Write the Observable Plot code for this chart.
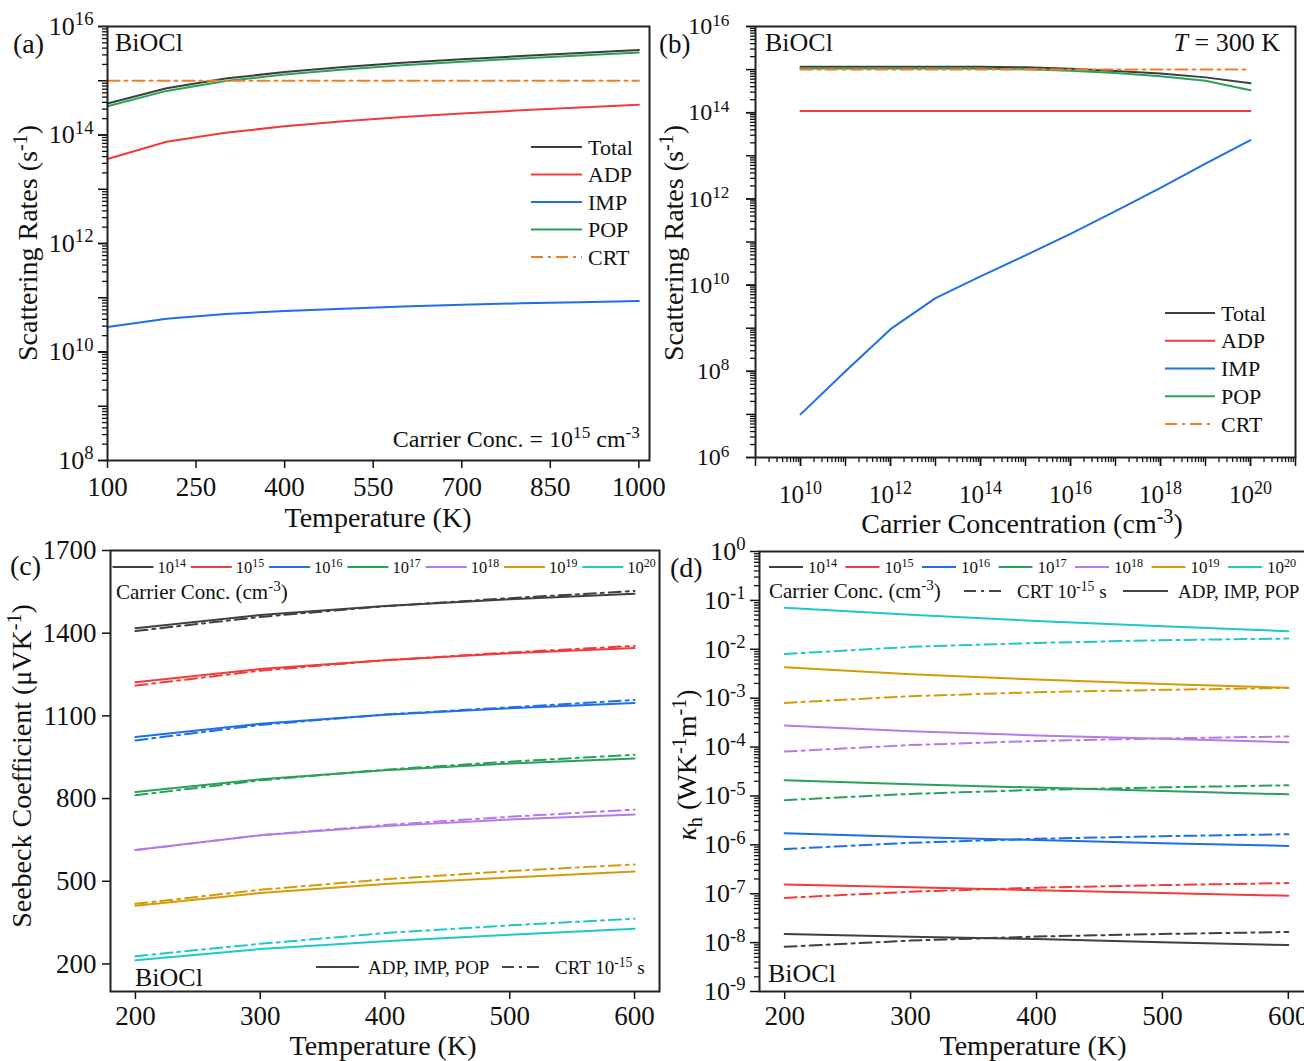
<!DOCTYPE html>
<html><head><meta charset="utf-8">
<script src="https://cdn.jsdelivr.net/npm/d3@7"></script>
<script src="https://cdn.jsdelivr.net/npm/@observablehq/plot@0.6"></script>
<style>
html,body{margin:0;padding:0;background:#fff;}
#fig{position:relative;width:1304px;height:1061px;overflow:hidden;background:#fff;font-family:"Liberation Serif","Times New Roman",serif;}
#fig svg{position:absolute;overflow:visible;}
</style>
</head><body><div id="fig"></div>
<script>
// ---------------- DATA ----------------
// Panel (a): scattering rates vs temperature, carrier conc 1e15
const tempA = [100, 200, 300, 400, 500, 600, 700, 800, 900, 1000];
const aTotal = [3.8e14, 7.3e14, 1.1e15, 1.45e15, 1.8e15, 2.15e15, 2.5e15, 2.85e15, 3.25e15, 3.7e15];
const aADP = [3.6e13, 7.5e13, 1.1e14, 1.45e14, 1.8e14, 2.15e14, 2.5e14, 2.85e14, 3.2e14, 3.6e14];
const aIMP = [2.9e10, 4.1e10, 5.0e10, 5.7e10, 6.3e10, 6.9e10, 7.4e10, 7.9e10, 8.3e10, 8.7e10];
const aPOP = [3.4e14, 6.5e14, 9.9e14, 1.3e15, 1.62e15, 1.94e15, 2.25e15, 2.57e15, 2.92e15, 3.33e15];
const aCRT = [1e15, 1e15, 1e15, 1e15, 1e15, 1e15, 1e15, 1e15, 1e15, 1e15];
const tempTicksA = [100, 250, 400, 550, 700, 850, 1000];

// Panel (b): scattering rates vs carrier concentration at 300 K
const concB = [1e10, 1e11, 1e12, 1e13, 1e14, 1e15, 1e16, 1e17, 1e18, 1e19, 1e20];
const bTotal = [1.17e15, 1.17e15, 1.17e15, 1.17e15, 1.16e15, 1.13e15, 1.04e15, 9.3e14, 8.1e14, 6.6e14, 4.8e14];
const bADP = [1.1e14, 1.1e14, 1.1e14, 1.1e14, 1.1e14, 1.1e14, 1.1e14, 1.1e14, 1.1e14, 1.1e14, 1.1e14];
const bIMP = [1e7, 1e8, 9.5e8, 5e9, 1.6e10, 4.9e10, 1.55e11, 5.2e11, 1.8e12, 6.6e12, 2.3e13];
const bPOP = [1.06e15, 1.06e15, 1.06e15, 1.06e15, 1.05e15, 1.02e15, 9.4e14, 8.3e14, 7.0e14, 5.5e14, 3.3e14];
const bCRT = [1e15, 1e15, 1e15, 1e15, 1e15, 1e15, 1e15, 1e15, 1e15, 1e15, 1e15];

const mechNames = ["Total", "ADP", "IMP", "POP", "CRT"];
const mechColors = ["#3d3d3d", "#f23a3a", "#1f6fe8", "#2aa05a", "#f57e1e"];

// Panels (c),(d): vs temperature for several carrier concentrations
const tempCD = [200, 300, 400, 500, 600];
const concNames = ["10^{14}", "10^{15}", "10^{16}", "10^{17}", "10^{18}", "10^{19}", "10^{20}"];
const concColors = ["#404040", "#f23a3a", "#1f6fe8", "#2aa05a", "#b47be6", "#d49b06", "#1ec8cc"];

// Seebeck (uV/K): ADP, IMP, POP (solid)
const seeb14 = [1418, 1466, 1499, 1523, 1543];
const seeb15 = [1222, 1270, 1302, 1327, 1346];
const seeb16 = [1023, 1071, 1104, 1128, 1147];
const seeb17 = [824, 870, 903, 927, 945];
const seeb18 = [613, 667, 700, 724, 742];
const seeb19 = [411, 457, 490, 514, 535];
const seeb20 = [213, 254, 282, 306, 328];
// Seebeck CRT 1e-15 s (dash-dot)
const seebCrt14 = [1408, 1459, 1498, 1527, 1553];
const seebCrt15 = [1210, 1264, 1302, 1330, 1354];
const seebCrt16 = [1011, 1067, 1105, 1131, 1158];
const seebCrt17 = [812, 866, 905, 934, 959];
const seebCrt18 = [613, 667, 704, 734, 760];
const seebCrt19 = [418, 469, 507, 537, 561];
const seebCrt20 = [228, 273, 312, 340, 364];

// kappa_h (W/K/m): ADP, IMP, POP (solid)
const kap14 = [1.5e-8, 1.32e-8, 1.18e-8, 1.02e-8, 8.9e-9];
const kap15 = [1.55e-7, 1.35e-7, 1.18e-7, 1.03e-7, 9.1e-8];
const kap16 = [1.73e-6, 1.45e-6, 1.25e-6, 1.08e-6, 9.5e-7];
const kap17 = [2.1e-5, 1.73e-5, 1.48e-5, 1.26e-5, 1.08e-5];
const kap18 = [2.77e-4, 2.1e-4, 1.73e-4, 1.48e-4, 1.26e-4];
const kap19 = [4.3e-3, 3.1e-3, 2.4e-3, 1.96e-3, 1.63e-3];
const kap20 = [7.1e-2, 5.1e-2, 3.8e-2, 2.95e-2, 2.34e-2];
// kappa_h CRT (dash-dot)
const kapCrt14 = [8.2e-9, 1.1e-8, 1.33e-8, 1.5e-8, 1.65e-8];
const kapCrt15 = [8.2e-8, 1.1e-7, 1.33e-7, 1.5e-7, 1.65e-7];
const kapCrt16 = [8.2e-7, 1.1e-6, 1.33e-6, 1.5e-6, 1.65e-6];
const kapCrt17 = [8.2e-6, 1.1e-5, 1.33e-5, 1.5e-5, 1.65e-5];
const kapCrt18 = [8.1e-5, 1.1e-4, 1.33e-4, 1.5e-4, 1.65e-4];
const kapCrt19 = [8.0e-4, 1.1e-3, 1.32e-3, 1.48e-3, 1.62e-3];
const kapCrt20 = [8.0e-3, 1.12e-2, 1.35e-2, 1.53e-2, 1.66e-2];

const seebTicks = [200, 500, 800, 1100, 1400, 1700];
const tempTicksCD = [200, 300, 400, 500, 600];

// ---------------- HELPERS ----------------
const FONT = '"Liberation Serif","Times New Roman",serif';
const SVGNS = "http://www.w3.org/2000/svg";
const DASH = "12,5,3,5";
const fmtInt = d => String(d);

function rich(el, str) {
  el.textContent = "";
  const re = /([\^_*])\{([^}]*)\}/g;
  const parts = [];
  let last = 0, m;
  while ((m = re.exec(str))) {
    if (m.index > last) parts.push(["n", str.slice(last, m.index)]);
    parts.push([m[1], m[2]]);
    last = re.lastIndex;
  }
  if (last < str.length) parts.push(["n", str.slice(last)]);
  let cur = 0;
  for (const [k, s] of parts) {
    const ts = document.createElementNS(SVGNS, "tspan");
    let target = 0, scale = 1;
    if (k === "^") { target = -0.36; scale = 0.72; }
    if (k === "_") { target = 0.22; scale = 0.72; }
    if (k === "*") ts.setAttribute("font-style", "italic");
    const dy = target - cur;
    if (Math.abs(dy) > 1e-9) ts.setAttribute("dy", (dy / scale).toFixed(3) + "em");
    if (scale !== 1) ts.setAttribute("font-size", (scale * 100) + "%");
    ts.textContent = s;
    el.appendChild(ts);
    cur = target;
  }
}
function richify(svg) {
  d3.select(svg).selectAll("text").each(function () {
    const s = this.textContent;
    if (/[\^_*]\{/.test(s)) rich(this, s);
  });
}
function minorLog(lo, hi) {
  const out = [];
  for (let k = lo; k < hi; k++) for (let mm = 2; mm <= 9; mm++) out.push(mm * Math.pow(10, k));
  return out;
}
const decades = (lo, hi, step = 1) => d3.range(lo, hi + 1, step).map(k => Math.pow(10, k));
const fmtPow = d => `10^{${Math.round(Math.log10(d))}}`;
const styleBase = {fontFamily: FONT, fontSize: "26px", color: "#111", background: "transparent", overflow: "visible"};

const fig = document.getElementById("fig");
function place(svg, left, top) {
  svg.style.left = left + "px";
  svg.style.top = top + "px";
  richify(svg);
  fig.appendChild(svg);
}
function rowsOf(xs, series) {
  const out = [];
  for (const [name, vals] of series) xs.forEach((x, i) => out.push({x, v: vals[i], s: name}));
  return out;
}

// ---------------- PANEL (a) ----------------
const aSolid = rowsOf(tempA, [["Total", aTotal], ["ADP", aADP], ["IMP", aIMP], ["POP", aPOP]]);
const aDash = rowsOf(tempA, [["CRT", aCRT]]);
const plotA = Plot.plot({
  width: 656, height: 540, marginLeft: 107, marginRight: 7, marginTop: 26, marginBottom: 80,
  style: styleBase,
  x: {domain: [100, 1018]},
  y: {type: "log", domain: [1e8, 1e16]},
  color: {domain: mechNames, range: mechColors},
  marks: [
    Plot.axisY(minorLog(8, 16), {tickSize: 5, fill: "none", strokeWidth: 1.3, label: null}),
    Plot.axisY(decades(8, 16), {tickSize: 9, fill: "none", strokeWidth: 1.5, label: null}),
    Plot.axisY(decades(8, 16, 2), {tickSize: 9, tickPadding: 5, tickFormat: fmtPow, strokeWidth: 1.5, label: null, fontSize: 26}),
    Plot.axisX(tempTicksA, {tickSize: 8, tickPadding: 8, tickFormat: fmtInt, strokeWidth: 1.5, label: null, fontSize: 27}),
    Plot.line(aSolid, {x: "x", y: "v", z: "s", stroke: "s", strokeWidth: 2}),
    Plot.line(aDash, {x: "x", y: "v", stroke: "s", strokeWidth: 2, strokeDasharray: DASH}),
    Plot.frame({strokeWidth: 2, stroke: "#222"})
  ]
});
place(plotA, 0, 0);

// ---------------- PANEL (b) ----------------
const bSolid = rowsOf(concB, [["Total", bTotal], ["ADP", bADP], ["IMP", bIMP], ["POP", bPOP]]);
const bDash = rowsOf(concB, [["CRT", bCRT]]);
const plotB = Plot.plot({
  width: 652, height: 540, marginLeft: 103, marginRight: 9, marginTop: 26, marginBottom: 83,
  style: styleBase,
  x: {type: "log", domain: [1e9, 1e21]},
  y: {type: "log", domain: [1e6, 1e16]},
  color: {domain: mechNames, range: mechColors},
  marks: [
    Plot.axisY(minorLog(6, 16), {tickSize: 5, fill: "none", strokeWidth: 1.3, label: null}),
    Plot.axisY(decades(6, 16), {tickSize: 9, fill: "none", strokeWidth: 1.5, label: null}),
    Plot.axisY(decades(6, 16, 2), {tickSize: 9, tickPadding: 17, tickFormat: fmtPow, strokeWidth: 1.5, label: null, fontSize: 24}),
    Plot.axisX(minorLog(9, 21), {tickSize: 5, fill: "none", strokeWidth: 1.3, label: null}),
    Plot.axisX(decades(9, 21), {tickSize: 9, fill: "none", strokeWidth: 1.5, label: null}),
    Plot.axisX(decades(10, 20, 2), {tickSize: 9, tickPadding: 19, tickFormat: fmtPow, strokeWidth: 1.5, label: null, fontSize: 25}),
    Plot.line(bSolid, {x: "x", y: "v", z: "s", stroke: "s", strokeWidth: 2}),
    Plot.line(bDash, {x: "x", y: "v", stroke: "s", strokeWidth: 2, strokeDasharray: DASH}),
    Plot.frame({strokeWidth: 2, stroke: "#222"})
  ]
});
place(plotB, 652, 0);

// ---------------- PANEL (c) ----------------
const cSolid = rowsOf(tempCD, [[concNames[0], seeb14], [concNames[1], seeb15], [concNames[2], seeb16], [concNames[3], seeb17], [concNames[4], seeb18], [concNames[5], seeb19], [concNames[6], seeb20]]);
const cDash = rowsOf(tempCD, [[concNames[0], seebCrt14], [concNames[1], seebCrt15], [concNames[2], seebCrt16], [concNames[3], seebCrt17], [concNames[4], seebCrt18], [concNames[5], seebCrt19], [concNames[6], seebCrt20]]);
const plotC = Plot.plot({
  width: 662, height: 521, marginLeft: 110, marginRight: 3, marginTop: 10, marginBottom: 70,
  style: styleBase,
  x: {domain: [180, 620]},
  y: {domain: [100, 1700]},
  color: {domain: concNames, range: concColors},
  marks: [
    Plot.axisY(seebTicks, {tickSize: 8, tickPadding: 6, tickFormat: fmtInt, strokeWidth: 1.5, label: null, fontSize: 27}),
    Plot.axisX(tempTicksCD, {tickSize: 8, tickPadding: 6, tickFormat: fmtInt, strokeWidth: 1.5, label: null, fontSize: 27}),
    Plot.line(cDash, {x: "x", y: "v", z: "s", stroke: "s", strokeWidth: 2, strokeDasharray: DASH}),
    Plot.line(cSolid, {x: "x", y: "v", z: "s", stroke: "s", strokeWidth: 2}),
    Plot.frame({strokeWidth: 2, stroke: "#222"})
  ]
});
place(plotC, 0, 540);

// ---------------- PANEL (d) ----------------
const dSolid = rowsOf(tempCD, [[concNames[0], kap14], [concNames[1], kap15], [concNames[2], kap16], [concNames[3], kap17], [concNames[4], kap18], [concNames[5], kap19], [concNames[6], kap20]]);
const dDash = rowsOf(tempCD, [[concNames[0], kapCrt14], [concNames[1], kapCrt15], [concNames[2], kapCrt16], [concNames[3], kapCrt17], [concNames[4], kapCrt18], [concNames[5], kapCrt19], [concNames[6], kapCrt20]]);
const plotD = Plot.plot({
  width: 660, height: 521, marginLeft: 99, marginRight: 7, marginTop: 11, marginBottom: 70,
  style: styleBase,
  x: {domain: [180, 620]},
  y: {type: "log", domain: [1e-9, 1]},
  color: {domain: concNames, range: concColors},
  marks: [
    Plot.axisY(minorLog(-9, 0), {tickSize: 5, fill: "none", strokeWidth: 1.3, label: null}),
    Plot.axisY(decades(-9, 0), {tickSize: 9, tickPadding: 5, tickFormat: fmtPow, strokeWidth: 1.5, label: null, fontSize: 26}),
    Plot.axisX(tempTicksCD, {tickSize: 8, tickPadding: 6, tickFormat: fmtInt, strokeWidth: 1.5, label: null, fontSize: 27}),
    Plot.line(dDash, {x: "x", y: "v", z: "s", stroke: "s", strokeWidth: 2, strokeDasharray: DASH}),
    Plot.line(dSolid, {x: "x", y: "v", z: "s", stroke: "s", strokeWidth: 2}),
    Plot.frame({strokeWidth: 2, stroke: "#222"})
  ]
});
place(plotD, 660, 540);

// ---------------- ANNOTATIONS, TITLES, LEGENDS ----------------
const ov = d3.select(fig).append("svg")
  .attr("width", 1304).attr("height", 1061)
  .style("left", "0px").style("top", "0px")
  .style("font-family", FONT).style("pointer-events", "none")
  .attr("fill", "#111");
function txt(x, y, s, size, anchor = "start", rot = 0) {
  const t = ov.append("text").attr("x", x).attr("y", y).attr("font-size", size).attr("text-anchor", anchor);
  if (rot) t.attr("transform", `rotate(${rot},${x},${y})`);
  rich(t.node(), s);
}
function seg(x1, x2, y, color, dash) {
  const l = ov.append("line").attr("x1", x1).attr("x2", x2).attr("y1", y).attr("y2", y)
    .attr("stroke", color).attr("stroke-width", 2);
  if (dash) l.attr("stroke-dasharray", dash);
}

// panel (a)
txt(13, 53, "(a)", 28);
txt(115, 51, "BiOCl", 26);
txt(640, 447, "Carrier Conc. = 10^{15} cm^{-3}", 24, "end");
txt(37, 243, "Scattering Rates (s^{-1})", 28, "middle", -90);
txt(378, 527, "Temperature (K)", 28, "middle");
mechNames.forEach((n, i) => {
  const y = 147 + i * 27.5;
  seg(531, 582, y, mechColors[i], n === "CRT" ? DASH : null);
  txt(588, y + 7.5, n, 22);
});

// panel (b)
txt(659, 53, "(b)", 27);
txt(765, 51, "BiOCl", 26);
txt(1280, 51, "*{T} = 300 K", 26, "end");
txt(683, 243, "Scattering Rates (s^{-1})", 28, "middle", -90);
txt(1022, 533, "Carrier Concentration (cm^{-3})", 28, "middle");
mechNames.forEach((n, i) => {
  const y = 313 + i * 27.75;
  seg(1165, 1215, y, mechColors[i], n === "CRT" ? DASH : null);
  txt(1221, y + 7.5, n, 22);
});

// panel (c)
txt(10, 575, "(c)", 28);
concNames.forEach((n, i) => {
  const x0 = 112.5 + i * 78.3;
  seg(x0, x0 + 41, 567, concColors[i]);
  txt(x0 + 45, 573, n, 16.5);
});
txt(116, 599, "Carrier Conc. (cm^{-3})", 21);
seg(316, 359, 967, "#444");
txt(368, 974, "ADP, IMP, POP", 19);
seg(502, 543, 967, "#444", DASH);
txt(555, 974, "CRT 10^{-15} s", 19);
txt(135, 986, "BiOCl", 26);
txt(31, 766, "Seebeck Coefficient (μVK^{-1})", 28, "middle", -90);
txt(383, 1055, "Temperature (K)", 28, "middle");

// panel (d)
txt(670, 577, "(d)", 28);
concNames.forEach((n, i) => {
  const x0 = 769 + i * 76.5;
  seg(x0, x0 + 34, 567, concColors[i]);
  txt(x0 + 39, 573, n, 17);
});
txt(769, 598, "Carrier Conc. (cm^{-3})", 21);
seg(964, 1005, 591, "#444", DASH);
txt(1017, 598, "CRT 10^{-15} s", 19);
seg(1123, 1168, 591, "#444");
txt(1178, 598, "ADP, IMP, POP", 19);
txt(768, 982, "BiOCl", 26);
txt(696, 765, "*{κ}_{h} (WK^{-1}m^{-1})", 28, "middle", -90);
txt(1033, 1055, "Temperature (K)", 28, "middle");
</script>
</body></html>
